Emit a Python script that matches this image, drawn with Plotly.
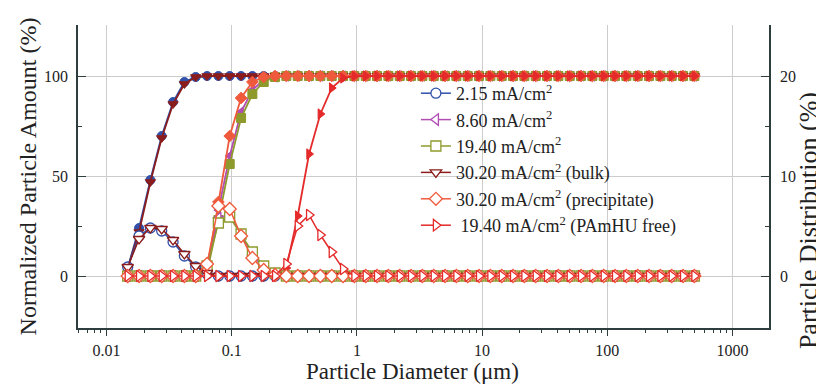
import plotly.graph_objects as go

# Particle diameter (um) - measurement bins
diameter = [0.01479, 0.01822, 0.02244, 0.02763, 0.03404, 0.04193, 0.05164, 0.06360, 0.07834, 0.09649,
            0.1189, 0.1464, 0.1803, 0.2221, 0.2735, 0.3369, 0.4150, 0.5111, 0.6295, 0.7754,
            0.9550, 1.176, 1.449, 1.785, 2.198, 2.707, 3.334, 4.107, 5.058, 6.230,
            7.674, 9.452, 11.64, 14.34, 17.66, 21.75, 26.79, 33.00, 40.64, 50.06,
            61.66, 75.94, 93.54, 115.2, 141.9, 174.8, 215.3, 265.2, 326.6, 402.3,
            495.5]

names = ["2.15 mA/cm<sup>2</sup>", "8.60 mA/cm<sup>2</sup>", "19.40 mA/cm<sup>2</sup>",
         "30.20 mA/cm<sup>2</sup> (bulk)", "30.20 mA/cm<sup>2</sup> (precipitate)",
         " 19.40 mA/cm<sup>2</sup> (PAmHU free)"]

# Normalized cumulative particle amount (%) - left axis
cum_215 = [4, 24, 48, 70, 87, 97, 99.5, 100, 100, 100,
           100, 100, 100, 100, 100, 100, 100, 100, 100, 100,
           100, 100, 100, 100, 100, 100, 100, 100, 100, 100,
           100, 100, 100, 100, 100, 100, 100, 100, 100, 100,
           100, 100, 100, 100, 100, 100, 100, 100, 100, 100, 100]
cum_860 = [0, 0, 0, 0, 0, 0, 0, 2, 33, 60,
           82, 93, 98, 99.5, 100, 100, 100, 100, 100, 100,
           100, 100, 100, 100, 100, 100, 100, 100, 100, 100,
           100, 100, 100, 100, 100, 100, 100, 100, 100, 100,
           100, 100, 100, 100, 100, 100, 100, 100, 100, 100, 100]
cum_1940 = [0, 0, 0, 0, 0, 0, 0, 2, 28, 56,
            79, 91, 97, 99.5, 100, 100, 100, 100, 100, 100,
            100, 100, 100, 100, 100, 100, 100, 100, 100, 100,
            100, 100, 100, 100, 100, 100, 100, 100, 100, 100,
            100, 100, 100, 100, 100, 100, 100, 100, 100, 100, 100]
cum_bulk = [4, 22, 47, 69, 86, 96, 99.5, 100, 100, 100,
            100, 100, 100, 100, 100, 100, 100, 100, 100, 100,
            100, 100, 100, 100, 100, 100, 100, 100, 100, 100,
            100, 100, 100, 100, 100, 100, 100, 100, 100, 100,
            100, 100, 100, 100, 100, 100, 100, 100, 100, 100, 100]
cum_prec = [0, 0, 0, 0, 0, 0, 0, 3, 37, 70,
            89, 97, 99.5, 100, 100, 100, 100, 100, 100, 100,
            100, 100, 100, 100, 100, 100, 100, 100, 100, 100,
            100, 100, 100, 100, 100, 100, 100, 100, 100, 100,
            100, 100, 100, 100, 100, 100, 100, 100, 100, 100, 100]
cum_free = [0, 0, 0, 0, 0, 0, 0, 0, 0, 0,
            0, 0, 0, 0, 4, 30, 61, 81, 94, 99,
            100, 100, 100, 100, 100, 100, 100, 100, 100, 100,
            100, 100, 100, 100, 100, 100, 100, 100, 100, 100,
            100, 100, 100, 100, 100, 100, 100, 100, 100, 100, 100]

# Particle distribution (%) - right axis
dist_215 = [0.9, 4.0, 4.8, 4.5, 3.4, 2.0, 0.9, 0.2, 0, 0,
            0, 0, 0, 0, 0, 0, 0, 0, 0, 0,
            0, 0, 0, 0, 0, 0, 0, 0, 0, 0,
            0, 0, 0, 0, 0, 0, 0, 0, 0, 0,
            0, 0, 0, 0, 0, 0, 0, 0, 0, 0, 0]
dist_860 = [0, 0, 0, 0, 0, 0, 0, 1.0, 5.8, 6.2,
            4.1, 2.1, 0.8, 0.2, 0, 0, 0, 0, 0, 0,
            0, 0, 0, 0, 0, 0, 0, 0, 0, 0,
            0, 0, 0, 0, 0, 0, 0, 0, 0, 0,
            0, 0, 0, 0, 0, 0, 0, 0, 0, 0, 0]
dist_1940 = [0, 0, 0, 0, 0, 0, 0, 1.0, 5.3, 5.9,
             4.2, 2.4, 1.0, 0.3, 0, 0, 0, 0, 0, 0,
             0, 0, 0, 0, 0, 0, 0, 0, 0, 0,
             0, 0, 0, 0, 0, 0, 0, 0, 0, 0,
             0, 0, 0, 0, 0, 0, 0, 0, 0, 0, 0]
dist_bulk = [0.9, 3.7, 4.8, 4.7, 3.6, 2.2, 1.0, 0.3, 0, 0,
             0, 0, 0, 0, 0, 0, 0, 0, 0, 0,
             0, 0, 0, 0, 0, 0, 0, 0, 0, 0,
             0, 0, 0, 0, 0, 0, 0, 0, 0, 0,
             0, 0, 0, 0, 0, 0, 0, 0, 0, 0, 0]
dist_prec = [0, 0, 0, 0, 0, 0, 0, 1.2, 7.0, 6.7,
             4.0, 1.8, 0.6, 0.1, 0, 0, 0, 0, 0, 0,
             0, 0, 0, 0, 0, 0, 0, 0, 0, 0,
             0, 0, 0, 0, 0, 0, 0, 0, 0, 0,
             0, 0, 0, 0, 0, 0, 0, 0, 0, 0, 0]
dist_free = [0, 0, 0, 0, 0, 0, 0, 0, 0, 0,
             0, 0, 0, 0, 1.2, 5.0, 6.1, 4.1, 2.4, 0.7,
             0, 0, 0, 0, 0, 0, 0, 0, 0, 0,
             0, 0, 0, 0, 0, 0, 0, 0, 0, 0,
             0, 0, 0, 0, 0, 0, 0, 0, 0, 0, 0]

x_tick_vals = [0.01, 0.1, 1, 10, 100, 1000]
x_tick_text = ["0.01", "0.1", "1", "10", "100", "1000"]
y_tick_vals = [0, 50, 100]
y2_tick_vals = [0, 10, 20]

cums = [cum_215, cum_860, cum_1940, cum_bulk, cum_prec, cum_free]
dists = [dist_215, dist_860, dist_1940, dist_bulk, dist_prec, dist_free]
colors = ["#3050aa", "#b24db4", "#8e9a2c", "#8b1c1c", "#f05a3c", "#e42a2a"]
symbols = ["circle", "triangle-left", "square", "triangle-down", "diamond", "triangle-right"]

FONT = "Liberation Serif"

fig = go.Figure()
for name, cum, col, sym in zip(names, cums, colors, symbols):
    fig.add_trace(go.Scatter(
        x=diameter, y=cum, mode="lines+markers", name=name, showlegend=False,
        line=dict(color=col, width=1.8),
        marker=dict(symbol=sym, size=9, color=col, line=dict(color=col, width=1)),
        yaxis="y"))
for name, dist, col, sym in zip(names, dists, colors, symbols):
    fig.add_trace(go.Scatter(
        x=diameter, y=dist, mode="lines+markers", name=name, showlegend=True,
        line=dict(color=col, width=1.5),
        marker=dict(symbol=sym, size=10, color="white", line=dict(color=col, width=1.3)),
        yaxis="y2"))

axis_line = "#2e3d3d"
grid = "#cccccc"

fig.update_layout(
    width=816, height=384,
    margin=dict(l=78, r=47, t=25, b=56, autoexpand=False),
    paper_bgcolor="white", plot_bgcolor="white",
    font=dict(family=FONT, size=16, color="#222"),
    xaxis=dict(
        type="log", range=[-2.227, 3.291], automargin=False,
        tickvals=x_tick_vals, ticktext=x_tick_text,
        ticks="outside", ticklen=6, tickcolor=axis_line, tickwidth=1.3,
        ticklabelstandoff=1,
        showline=True, linecolor=axis_line, linewidth=1.5,
        showgrid=True, gridcolor=grid, gridwidth=1, zeroline=False,
        minor=dict(ticks="outside", ticklen=3, tickcolor=axis_line, dtick="D1", showgrid=False),
        tickfont=dict(family=FONT, size=16),
    ),
    yaxis=dict(
        range=[-26, 125.5], tickvals=y_tick_vals, automargin=False,
        ticks="inside", ticklen=8, tickcolor=axis_line, tickwidth=1.3,
        ticklabelstandoff=5,
        showline=True, linecolor=axis_line, linewidth=1.5,
        showgrid=True, gridcolor=grid, zeroline=False,
        minor=dict(ticks="inside", ticklen=4, tickvals=[25, 75], tickcolor=axis_line, showgrid=False),
        tickfont=dict(family=FONT, size=16),
        title=dict(text="Normalized Particle Amount (%)", font=dict(family=FONT, size=24), standoff=1),
    ),
    yaxis2=dict(
        overlaying="y", side="right", automargin=False,
        range=[-5.2, 25.1], tickvals=y2_tick_vals,
        ticks="inside", ticklen=8, tickcolor=axis_line, tickwidth=1.3,
        ticklabelstandoff=6,
        showline=True, linecolor=axis_line, linewidth=1.5,
        showgrid=False, zeroline=False,
        minor=dict(ticks="inside", ticklen=4, tickvals=[5, 15], tickcolor=axis_line, showgrid=False),
        tickfont=dict(family=FONT, size=16),
    ),
    annotations=[
        dict(text="Particle Distribution (%)", textangle=-90,
             xref="paper", yref="paper", x=1.0564, y=0.356,
             xanchor="center", yanchor="middle", showarrow=False,
             font=dict(family=FONT, size=26, color="#222")),
        dict(text="Particle Diameter (μm)",
             xref="paper", yref="paper", x=(412 - 78) / 691, y=-(371 - 328) / 303,
             xanchor="center", yanchor="middle", showarrow=False,
             font=dict(family=FONT, size=23, color="#222")),
    ],
    legend=dict(
        x=0.489, y=0.835, xanchor="left", yanchor="top",
        bgcolor="rgba(0,0,0,0)", borderwidth=0,
        font=dict(family=FONT, size=18, color="#222"),
        traceorder="normal",
    ),
)

fig.write_html("out.html", config={"displayModeBar": False},
               post_script="document.body.style.margin='0';document.body.style.padding='0';")
